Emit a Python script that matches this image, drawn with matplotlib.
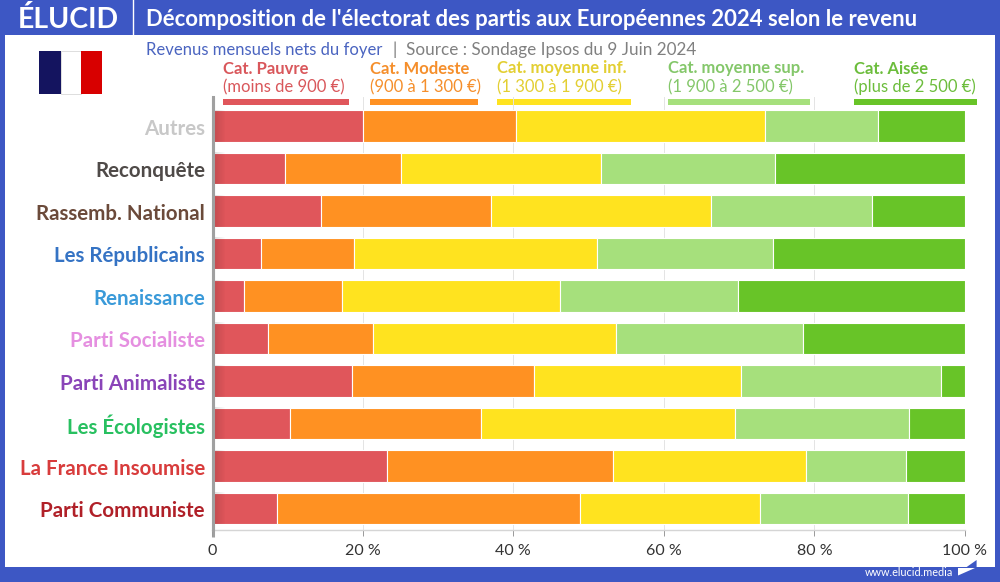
import numpy as np
import matplotlib
matplotlib.use("Agg")
import matplotlib.pyplot as plt
from matplotlib.patches import Rectangle, Polygon
from matplotlib.transforms import ScaledTranslation

plt.rcParams["font.family"] = ["Lato", "DejaVu Sans"]

parties = ["Autres", "Reconquête", "Rassemb. National", "Les Républicains", "Renaissance",
           "Parti Socialiste", "Parti Animaliste", "Les Écologistes", "La France Insoumise",
           "Parti Communiste"]
party_colors = ["#c8c8c8", "#4f4a48", "#6b4a3a", "#3573c4", "#3a9ad9",
                "#e58fe0", "#8a44b8", "#28c060", "#d83c3c", "#b02028"]

pauvre = [20.1, 9.7, 14.5, 6.5, 4.2, 7.4, 18.6, 10.3, 23.2, 8.6]
modeste = [20.3, 15.4, 22.5, 12.3, 13.0, 14.0, 24.2, 25.4, 30.1, 40.3]
moyenne_inf = [33.0, 26.5, 29.3, 32.3, 29.0, 32.3, 27.5, 33.8, 25.6, 23.9]
moyenne_sup = [15.0, 23.2, 21.4, 23.4, 23.7, 24.8, 26.5, 23.1, 13.3, 19.6]
aisee = [11.6, 25.2, 12.3, 25.5, 30.1, 21.5, 3.2, 7.4, 7.8, 7.6]

series = [pauvre, modeste, moyenne_inf, moyenne_sup, aisee]
bar_colors = ["#e0565b", "#ff9122", "#ffe31f", "#a6e07c", "#68c428"]
legend_titles = ["Cat. Pauvre", "Cat. Modeste", "Cat. moyenne inf.", "Cat. moyenne sup.", "Cat. Aisée"]
legend_ranges = ["(moins de 900 €)", "(900 à 1 300 €)", "(1 300 à 1 900 €)", "(1 900 à 2 500 €)", "(plus de 2 500 €)"]
legend_text_colors = ["#d9575b", "#f58f2c", "#e3cf33", "#84c76a", "#6cbd3c"]
legend_x = [223, 370, 497, 668, 854]
legend_x2 = [349, 478, 631, 810, 977]
ticks = [0, 20, 40, 60, 80, 100]
tick_labels = ["0", "20 %", "40 %", "60 %", "80 %", "100 %"]

W, H = 1000, 582
blue = "#3d57c4"
fig = plt.figure(figsize=(W / 100, H / 100), dpi=100, facecolor=blue)

# background layer in pixel coordinates
bg = fig.add_axes([0, 0, 1, 1])
bg.set_xlim(0, W)
bg.set_ylim(H, 0)
bg.axis("off")
bg.add_patch(Rectangle((5, 35), 990, 532, fc="white", ec="none"))
bg.plot([132.5, 132.5], [0, 35], color="white", lw=1)
bg.text(18, 19, "ÉLUCID", color="white", fontsize=20.5, fontweight="bold", va="center", ha="left")
bg.text(146, 20, "Décomposition de l'électorat des partis aux Européennes 2024 selon le revenu",
        color="white", fontsize=15.9, fontweight="bold", va="center", ha="left")
bg.text(146, 50, "Revenus mensuels nets du foyer", color="#4a64c0", fontsize=12, va="center", ha="left")
bg.text(393, 50, "|  Source : Sondage Ipsos du 9 Juin 2024", color="#808080", fontsize=12.3, va="center", ha="left")

# flag
bg.add_patch(Rectangle((39, 51), 22, 43, fc="#14145f", ec="none"))
bg.add_patch(Rectangle((61, 51), 20, 43, fc="white", ec="#d0d0d0", lw=0.5))
bg.add_patch(Rectangle((81, 51), 21, 43, fc="#d80000", ec="none"))

# legend
for i in range(5):
    bg.text(legend_x[i], 68.5, legend_titles[i], color=legend_text_colors[i], fontsize=12,
            fontweight="bold", va="center", ha="left")
    bg.text(legend_x[i], 87, legend_ranges[i], color=legend_text_colors[i], fontsize=12,
            va="center", ha="left")
    bg.add_patch(Rectangle((legend_x[i], 99), legend_x2[i] - legend_x[i], 5.5,
                           fc=bar_colors[i], ec="none"))

# footer
bg.text(953, 572, "www.elucid.media", color="white", fontsize=7.8, va="center", ha="right")
bg.add_patch(Polygon([[966, 567.5], [976.6, 560], [976.6, 567.5]], fc=blue, ec="none"))
bg.add_patch(Polygon([[958, 568], [975, 568], [958, 575.5]], fc="white", ec="none"))

# axis line runs past the bottom of the plot
bg.plot([212.5, 212.5], [97, 537], color="#a0a0a0", lw=2.2, solid_capstyle="butt")

# chart
left, right, top, bottom = 212, 965, 97, 530
ax = fig.add_axes([left / W, 1 - bottom / H, (right - left) / W, (bottom - top) / H])
ax.patch.set_alpha(0)

# spines first: set_position resets the ticks
for s in ["top", "right"]:
    ax.spines[s].set_visible(False)
ax.spines["left"].set_color("#a0a0a0")
ax.spines["left"].set_linewidth(2.2)
ax.spines["left"].set_position(("outward", -0.4))
ax.spines["left"].set_zorder(6)
ax.spines["bottom"].set_color("#d5d5d5")
ax.spines["bottom"].set_linewidth(1)

start = [0] * len(parties)
for vals, col in zip(series, bar_colors):
    ax.barh(range(len(parties)), vals, left=start, height=0.741, color=col,
            edgecolor="white", linewidth=0.8, zorder=3)
    start = [s + v for s, v in zip(start, vals)]

# soft shadow on the first bar next to the axis
shade = np.zeros((1, 32, 4))
shade[..., 3] = np.linspace(0.15, 0, 32)
for i in range(len(parties)):
    ax.imshow(shade, extent=[0, 1.8, i + 0.37, i - 0.37], aspect="auto", zorder=4)

ax.set_xlim(0, 100)
ax.set_ylim(9.506, -0.682)
ax.set_axisbelow(True)
ax.grid(axis="x", color="#e4e4e4", lw=0.7)
ax.set_xticks(ticks)
ax.set_xticklabels(tick_labels, fontsize=11.5, color="#333333")
ax.tick_params(axis="x", length=4, width=0.7, color="#999999", pad=6)
ax.set_yticks(range(len(parties)))
ax.set_yticklabels(parties, fontsize=14.8, fontweight="bold")
ax.tick_params(axis="y", length=0, pad=5.5)
nudge = ScaledTranslation(0, -1 / 100, fig.dpi_scale_trans)
for lab, col in zip(ax.get_yticklabels(), party_colors):
    lab.set_color(col)
    lab.set_transform(lab.get_transform() + nudge)

fig.savefig("out.png", dpi=100, facecolor=fig.get_facecolor())
